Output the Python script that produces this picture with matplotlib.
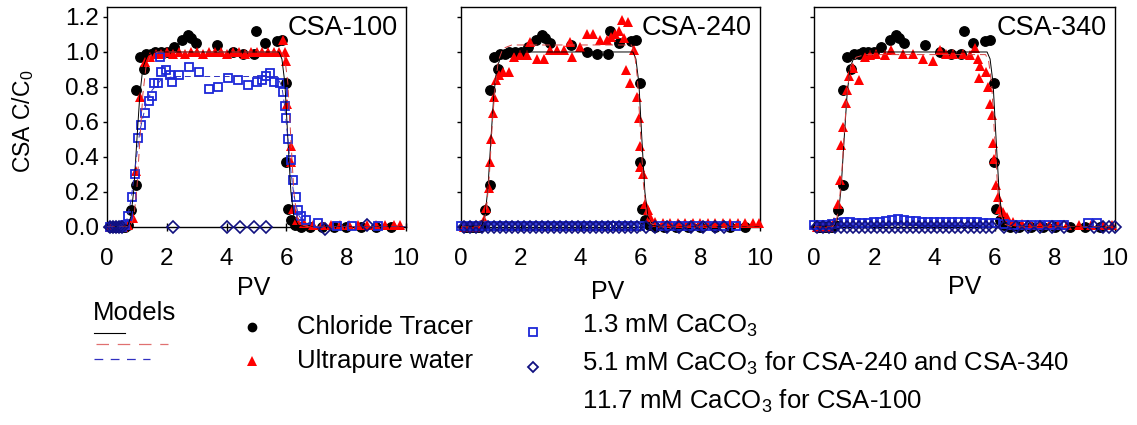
import numpy as np
import matplotlib
matplotlib.use("Agg")
import matplotlib.pyplot as plt

plt.rcParams['font.family'] = ['Liberation Sans', 'DejaVu Sans']
plt.rcParams['mathtext.fontset'] = 'custom'
plt.rcParams['mathtext.rm'] = 'Liberation Sans'
plt.rcParams['mathtext.it'] = 'Liberation Sans:italic'

# ---- data: chloride tracer (same run shown in all three panels) ----
cl_x = [0.10, 0.18, 0.26, 0.34, 0.42, 0.50, 0.60, 0.70, 0.81, 0.96, 0.98, 1.09, 1.23,
        1.32, 1.48, 1.62, 1.80, 2.00, 2.24, 2.52, 2.71, 2.82, 2.99, 3.68, 4.20, 4.55,
        4.90, 4.98, 5.28, 5.67, 5.84, 5.97, 5.99, 6.06, 6.17, 6.30, 6.50, 6.80, 7.20,
        7.60, 8.00, 8.50, 9.00, 9.50]
cl_y = [0.0, 0.0, 0.0, 0.0, 0.0, 0.0, 0.0, 0.01, 0.095, 0.24, 0.78, 0.97, 0.90,
        0.99, 0.99, 1.0, 1.0, 1.0, 1.03, 1.07, 1.095, 1.08, 1.05, 1.04, 1.0, 0.99,
        0.99, 1.12, 1.05, 1.06, 1.07, 0.82, 0.37, 0.105, 0.04, 0.01, 0.0, 0.0, 0.0,
        0.0, 0.0, 0.0, 0.0, 0.0]

# ---- ultrapure water ----
uw100_x = [0.10, 0.25, 0.40, 0.55, 0.70, 0.87, 0.98, 1.09, 1.26, 1.45, 1.65, 1.80,
           2.00, 2.20, 2.40, 2.60, 2.80, 3.00, 3.20, 3.40, 3.60, 3.80, 4.00, 4.20,
           4.40, 4.60, 4.80, 5.00, 5.20, 5.40, 5.60, 5.75, 5.90, 5.95, 6.00, 6.02,
           6.15, 6.17, 6.22, 6.35, 6.60, 6.90, 7.20, 7.50, 7.80, 8.10, 8.40, 8.70,
           9.00, 9.30, 9.60, 9.80]
uw100_y = [0.0, 0.0, 0.0, 0.0, 0.01, 0.05, 0.32, 0.74, 0.94, 0.97, 0.99, 0.99,
           1.0, 0.99, 1.0, 0.99, 1.0, 1.0, 0.99, 1.0, 1.0, 1.0, 0.99, 1.0,
           1.0, 0.99, 1.0, 1.0, 1.0, 1.0, 1.0, 1.0, 1.07, 1.0, 0.95, 0.70,
           0.46, 0.37, 0.10, 0.04, 0.02, 0.01, 0.01, 0.01, 0.01, 0.01, 0.01, 0.01,
           0.01, 0.01, 0.01, 0.01]

uw240_x = [0.10, 0.30, 0.50, 0.65, 0.76, 0.84, 0.92, 0.98, 1.00, 1.06, 1.11, 1.18,
           1.26, 1.40, 1.59, 1.76, 1.98, 2.20, 2.32, 2.54, 2.76, 2.98, 3.21, 3.43,
           3.65, 3.71, 3.99, 4.21, 4.43, 4.65, 4.88, 5.01, 5.16, 5.27, 5.38, 5.46,
           5.51, 5.60, 5.66, 5.77, 5.88, 5.94, 5.97, 5.99, 6.08, 6.16, 6.27, 6.33,
           6.50, 6.75, 7.00, 7.25, 7.50, 7.75, 8.00, 8.25, 8.50, 8.75, 9.00, 9.25,
           9.50, 9.75, 9.95]
uw240_y = [0.0, 0.0, 0.0, 0.01, 0.04, 0.11, 0.22, 0.37, 0.50, 0.65, 0.74, 0.84,
           0.87, 0.885, 0.885, 0.97, 0.98, 0.98, 1.055, 0.96, 0.96, 1.01, 1.01, 1.01,
           1.055, 0.97, 1.03, 1.10, 1.10, 1.07, 1.07, 1.085, 1.10, 1.12, 1.18, 1.08,
           0.895, 1.17, 0.82, 1.01, 0.74, 0.62, 0.46, 0.34, 0.30, 0.13, 0.095, 0.057,
           0.03, 0.025, 0.02, 0.02, 0.02, 0.02, 0.02, 0.02, 0.02, 0.02, 0.02, 0.02,
           0.02, 0.02, 0.02]

uw340_x = [0.10, 0.30, 0.50, 0.67, 0.80, 0.88, 0.91, 0.96, 1.05, 1.08, 1.16, 1.30,
           1.50, 1.69, 1.85, 2.07, 2.35, 2.57, 2.96, 3.29, 3.63, 3.96, 4.18, 4.40,
           4.62, 4.96, 5.18, 5.34, 5.45, 5.49, 5.51, 5.73, 5.79, 5.84, 5.90, 5.95,
           5.98, 6.06, 6.12, 6.18, 6.29, 6.40, 6.62, 6.90, 7.20, 7.50, 7.80, 8.10,
           8.40, 8.80, 9.20, 9.60, 9.90]
uw340_y = [0.0, 0.0, 0.0, 0.03, 0.13, 0.27, 0.47, 0.57, 0.71, 0.78, 0.86, 0.91,
           0.84, 0.97, 0.98, 0.99, 0.98, 1.01, 0.99, 0.99, 0.96, 0.95, 1.01, 0.99,
           0.99, 0.99, 0.98, 1.02, 0.96, 0.85, 0.92, 0.885, 0.80, 0.70, 0.64, 0.48,
           0.39, 0.24, 0.17, 0.105, 0.086, 0.057, 0.03, 0.015, 0.01, 0.01, 0.01, 0.01,
           0.01, 0.01, 0.01, 0.01, 0.01]

# ---- 1.3 mM CaCO3 ----
c13_100_x = [0.10, 0.20, 0.30, 0.40, 0.50, 0.60, 0.70, 0.85, 0.93, 1.04, 1.15, 1.26,
             1.40, 1.49, 1.56, 1.71, 1.77, 1.82, 1.96, 2.10, 2.19, 2.40, 2.73, 3.07,
             3.40, 3.72, 4.05, 4.39, 4.72, 5.00, 5.17, 5.33, 5.45, 5.60, 5.78, 5.89,
             5.95, 6.00, 6.06, 6.14, 6.23, 6.32, 6.40, 6.50, 6.67, 7.06, 7.68, 8.20,
             9.07]
c13_100_y = [0.0, 0.0, 0.0, 0.0, 0.0, 0.01, 0.06, 0.17, 0.30, 0.51, 0.58, 0.65,
             0.72, 0.75, 0.82, 0.82, 0.97, 0.885, 0.895, 0.87, 0.83, 0.87, 0.915, 0.885,
             0.79, 0.80, 0.85, 0.84, 0.81, 0.83, 0.84, 0.86, 0.88, 0.83, 0.82, 0.77,
             0.69, 0.62, 0.505, 0.38, 0.27, 0.17, 0.095, 0.06, 0.04, 0.02, 0.005, 0.005,
             0.005]

c13_240_x = [0.0, 0.2, 0.4, 0.6, 0.8, 1.0, 1.2, 1.4, 1.6, 1.8, 2.0, 2.2, 2.4, 2.6,
             2.8, 3.0, 3.2, 3.4, 3.6, 3.8, 4.0, 4.2, 4.4, 4.6, 4.8, 5.0, 5.2, 5.4,
             5.6, 5.8, 6.0, 6.7, 7.0, 7.3, 7.6, 7.9, 8.2, 8.5, 8.8, 9.2]
c13_240_y = [0.005, 0.005, 0.005, 0.005, 0.005, 0.005, 0.005, 0.005, 0.005, 0.005,
             0.005, 0.005, 0.005, 0.005, 0.005, 0.005, 0.005, 0.005, 0.005, 0.005,
             0.005, 0.005, 0.005, 0.005, 0.005, 0.005, 0.005, 0.005, 0.005, 0.005,
             0.005, 0.005, 0.005, 0.005, 0.005, 0.005, 0.005, 0.005, 0.005, 0.005]

c13_340_x = [0.0, 0.2, 0.4, 0.6, 0.8, 1.0, 1.2, 1.4, 1.6, 1.8, 2.0, 2.2, 2.4, 2.6,
             2.8, 3.0, 3.2, 3.4, 3.6, 3.8, 4.0, 4.2, 4.4, 4.6, 4.8, 5.0, 5.2, 5.4,
             5.6, 5.8, 6.0, 6.3, 6.6, 6.9, 7.2, 7.5, 7.8, 8.1, 8.3, 9.1, 9.4]
c13_340_y = [0.01, 0.01, 0.01, 0.015, 0.025, 0.03, 0.03, 0.025, 0.025, 0.025, 0.03,
             0.03, 0.035, 0.04, 0.045, 0.04, 0.035, 0.035, 0.03, 0.03, 0.03, 0.03,
             0.03, 0.03, 0.03, 0.03, 0.03, 0.03, 0.025, 0.025, 0.02, 0.015, 0.01,
             0.01, 0.01, 0.01, 0.01, 0.01, 0.01, 0.02, 0.02]

# ---- 11.7 mM (CSA-100) / 5.1 mM (CSA-240, CSA-340) CaCO3 ----
c_hi_100_x = [0.10, 0.20, 0.30, 0.40, 0.50, 2.21, 4.03, 4.46, 4.91, 5.33, 7.29, 8.68]
c_hi_100_y = [0.0, 0.0, 0.0, 0.0, 0.0, 0.0, 0.0, 0.0, 0.0, 0.0, -0.01, 0.01]

c_hi_240_x = [0.1, 0.3, 0.5, 0.7, 0.9, 1.1, 1.3, 1.5, 1.7, 1.9, 2.1, 2.3, 2.5, 2.7,
              2.9, 3.1, 3.3, 3.5, 3.7, 3.9, 4.1, 4.3, 4.5, 4.7, 4.9, 5.1, 5.3, 5.5,
              5.7, 5.9, 6.2, 6.5, 6.9, 7.3, 7.7, 8.1, 8.5, 8.8]
c_hi_240_y = [0.0] * len(c_hi_240_x)

c_hi_340_x = [0.1, 0.3, 0.5, 0.7, 0.9, 1.1, 1.3, 1.5, 1.7, 1.9, 2.1, 2.3, 2.5, 2.7,
              2.9, 3.1, 3.3, 3.5, 3.7, 3.9, 4.1, 4.3, 4.5, 4.7, 4.9, 5.1, 5.3, 5.5,
              5.7, 5.9, 6.3, 6.7, 7.1, 7.5, 7.9, 8.3, 9.3, 9.6, 9.8, 10.0]
c_hi_340_y = [0.0] * len(c_hi_340_x)

# ---- model fits ----
m_cl_x = [0, 0.55, 0.70, 0.80, 0.90, 1.00, 1.10, 1.20, 1.35, 1.60, 5.75, 5.85,
          5.95, 6.05, 6.15, 6.25, 6.40, 6.70, 10]
m_cl_y = [0, 0, 0.01, 0.06, 0.22, 0.50, 0.76, 0.91, 0.98, 1.0, 1.0, 0.96,
          0.82, 0.50, 0.20, 0.06, 0.01, 0, 0]

m_uw100_x = [0, 0.65, 0.80, 0.90, 1.00, 1.10, 1.20, 1.30, 1.45, 1.70, 5.85, 5.95,
             6.05, 6.15, 6.25, 6.35, 6.50, 6.80, 10]
m_uw100_y = [0, 0, 0.01, 0.06, 0.22, 0.50, 0.76, 0.91, 0.98, 1.0, 1.0, 0.96,
             0.82, 0.50, 0.20, 0.06, 0.01, 0, 0]
m_uw240_x = [0, 0.60, 0.75, 0.85, 0.95, 1.05, 1.15, 1.25, 1.40, 1.70, 5.70, 5.80,
             5.90, 6.00, 6.10, 6.20, 6.35, 6.60, 10]
m_uw240_y = [0, 0, 0.02, 0.10, 0.30, 0.60, 0.82, 0.95, 1.02, 1.04, 1.04, 1.0,
             0.85, 0.55, 0.25, 0.08, 0.02, 0, 0]
m_uw340_x = [0, 0.60, 0.72, 0.82, 0.92, 1.02, 1.12, 1.22, 1.40, 1.70, 5.70, 5.80,
             5.90, 6.00, 6.10, 6.20, 6.35, 6.60, 10]
m_uw340_y = [0, 0, 0.02, 0.10, 0.30, 0.58, 0.80, 0.92, 0.97, 0.985, 0.985, 0.95,
             0.82, 0.52, 0.22, 0.07, 0.015, 0, 0]

m_c13_100_x = [0, 0.50, 0.65, 0.80, 0.95, 1.10, 1.30, 1.50, 1.80, 2.20, 5.70, 5.85,
               5.95, 6.05, 6.15, 6.25, 6.40, 6.60, 7.00, 10]
m_c13_100_y = [0, 0, 0.03, 0.15, 0.35, 0.55, 0.70, 0.78, 0.84, 0.86, 0.86, 0.80,
               0.68, 0.50, 0.32, 0.18, 0.07, 0.02, 0, 0]
m_zero_x = [0, 10]
m_zero_y = [0, 0]

panels = [
    dict(name='CSA-100', uw=(uw100_x, uw100_y), c13=(c13_100_x, c13_100_y),
         chi=(c_hi_100_x, c_hi_100_y), m_uw=(m_uw100_x, m_uw100_y),
         m_c13=(m_c13_100_x, m_c13_100_y)),
    dict(name='CSA-240', uw=(uw240_x, uw240_y), c13=(c13_240_x, c13_240_y),
         chi=(c_hi_240_x, c_hi_240_y), m_uw=(m_uw240_x, m_uw240_y),
         m_c13=(m_zero_x, m_zero_y)),
    dict(name='CSA-340', uw=(uw340_x, uw340_y), c13=(c13_340_x, c13_340_y),
         chi=(c_hi_340_x, c_hi_340_y), m_uw=(m_uw340_x, m_uw340_y),
         m_c13=(m_zero_x, m_zero_y)),
]

W, H = 1137, 425
fig = plt.figure(figsize=(W / 100, H / 100), dpi=100)

# axes boxes in pixels: left, right, top, bottom
boxes = [(107, 406, 7, 227), (461, 760, 7, 227), (814, 1115, 7, 227)]
pv_pos = [(254, 288), (608, 292), (965, 287)]

BLUE_SQ = '#1c28d8'
NAVY = '#101080'
RED = '#ff0000'

for i, (p, (l, r, t, b)) in enumerate(zip(panels, boxes)):
    ax = fig.add_axes([l / W, 1 - b / H, (r - l) / W, (b - t) / H])
    ax.set_xlim(0, 10)
    ax.set_ylim(0, 1.257)

    ax.plot(cl_x, cl_y, 'o', color='black', ms=6.8, clip_on=False, zorder=3)
    ax.plot(*p['uw'], '^', color=RED, ms=7.5, mew=0, clip_on=False, zorder=4)
    ax.plot(*p['c13'], 's', mfc='none', mec=BLUE_SQ, ms=5.8, mew=1.3,
            clip_on=False, zorder=5)
    ax.plot(*p['chi'], 'D', mfc='none', mec=NAVY, ms=5.8, mew=1.2,
            clip_on=False, zorder=5)

    ax.plot(m_cl_x, m_cl_y, '-', color='black', lw=0.7, zorder=6)
    ax.plot(*p['m_uw'], '--', color='#d84040', lw=0.7, dashes=(8, 5), zorder=6)
    ax.plot(*p['m_c13'], '--', color='#3030c0', lw=0.7, dashes=(6, 4), zorder=6)

    ax.set_xticks([0, 2, 4, 6, 8, 10])
    ax.set_yticks([0, 0.2, 0.4, 0.6, 0.8, 1.0, 1.2])
    ax.tick_params(axis='x', direction='inout', length=6, width=1, pad=12,
                   labelsize=17.5)
    ax.tick_params(axis='y', direction='out', length=3, width=1, pad=3,
                   labelsize=17.5)
    if i == 0:
        ax.set_yticklabels(['0.0', '0.2', '0.4', '0.6', '0.8', '1.0', '1.2'])
    else:
        ax.set_yticklabels([])
    for s in ax.spines.values():
        s.set_linewidth(1.0)

    ax.annotate(p['name'], xy=(1, 1), xycoords='axes fraction',
                xytext=(-6, -15), textcoords='offset points',
                ha='right', va='center', fontsize=19.5)

    fig.text(pv_pos[i][0] / W, 1 - pv_pos[i][1] / H, 'PV', ha='center',
             va='center', fontsize=18)

fig.text(23 / W, 1 - 121 / H, 'CSA C/C$_0$', rotation=90, ha='center',
         va='center', fontsize=16.5)

# legend drawn in pixel space
lg = fig.add_axes([0, 0, 1, 1])
lg.set_xlim(0, W)
lg.set_ylim(H, 0)
lg.axis('off')

lg.text(93, 313, 'Models', ha='left', va='center', fontsize=18.5)
lg.plot([94, 125], [333, 333], '-', color='black', lw=0.8)
lg.plot([96, 168], [344, 344], '--', color='#e07070', lw=0.9, dashes=(10, 7))
lg.plot([94, 150], [359, 359], '--', color='#3030c0', lw=0.9, dashes=(7, 6))

lg.plot(252, 327, 'o', color='black', ms=6)
lg.text(297, 327, 'Chloride Tracer', ha='left', va='center', fontsize=18.5)
lg.plot(252, 361, '^', color=RED, ms=6.5, mew=0)
lg.text(297, 361, 'Ultrapure water', ha='left', va='center', fontsize=18.5)

lg.plot(533, 332, 's', mfc='none', mec=BLUE_SQ, ms=5.5, mew=1.3)
lg.text(582, 326, '1.3 mM CaCO$_3$', ha='left', va='center', fontsize=18.5)
lg.plot(533, 367, 'D', mfc='none', mec=NAVY, ms=5, mew=1.3)
lg.text(582, 363, '5.1 mM CaCO$_3$ for CSA-240 and CSA-340', ha='left',
        va='center', fontsize=18.5)
lg.text(582, 401, '11.7 mM CaCO$_3$ for CSA-100', ha='left', va='center',
        fontsize=18.5)

fig.savefig('out.png', dpi=100)
